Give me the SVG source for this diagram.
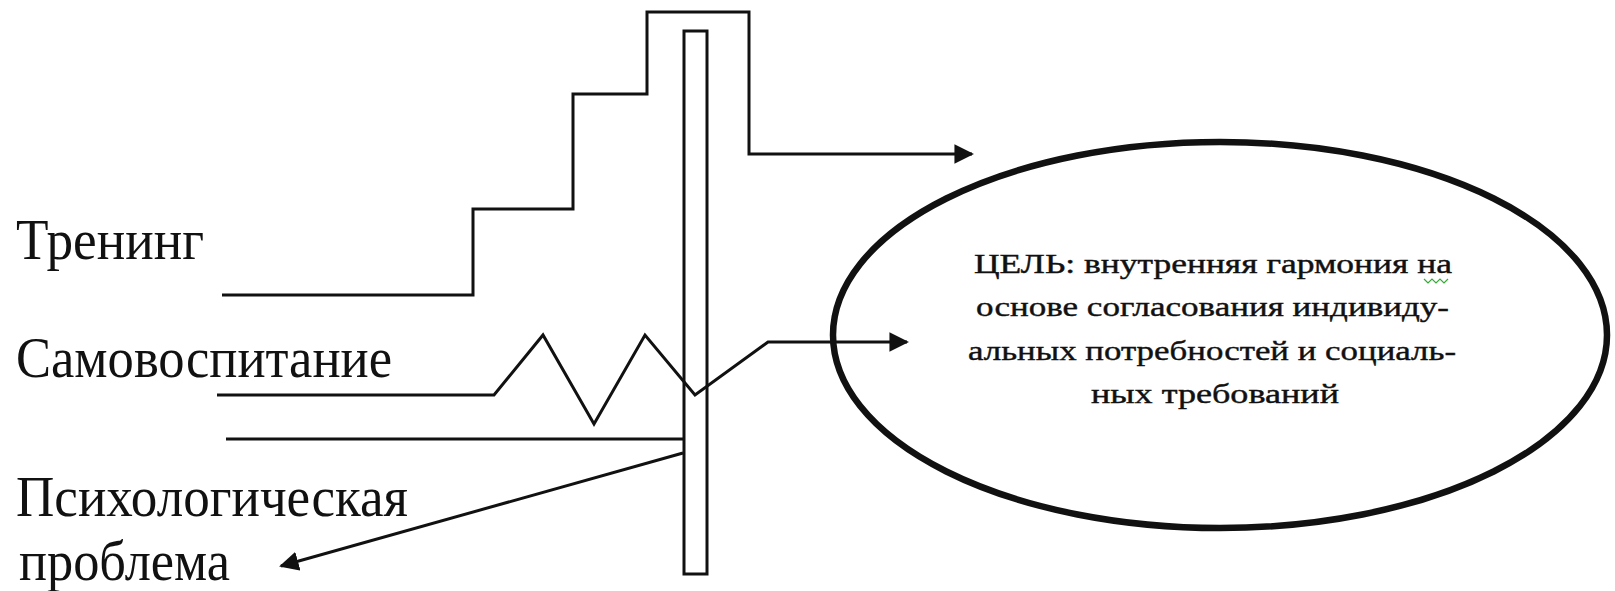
<svg xmlns="http://www.w3.org/2000/svg" width="1615" height="591" viewBox="0 0 1615 591">
<style>
.lbl{font-family:"Liberation Serif","Times New Roman",serif;font-size:56px;fill:#111}
.goal{font-family:"Liberation Serif","Times New Roman",serif;font-size:27px;fill:#111;stroke:#111;stroke-width:0.4}
.ln{fill:none;stroke:#111;stroke-width:3;stroke-linejoin:miter}
.arr{marker-end:url(#ah)}
</style>
<defs>
<marker id="ah" viewBox="0 0 10 10" refX="9" refY="5" markerWidth="6.5" markerHeight="6.5" markerUnits="strokeWidth" orient="auto">
<path d="M0,0 L10,5 L0,10 z" fill="#111"/>
</marker>
</defs>
<rect width="1615" height="591" fill="#fff"/>
<g id="barrier">
<rect x="684" y="31" width="23" height="543" fill="#fff" stroke="#111" stroke-width="3"/>
</g>
<g id="goal">
<ellipse cx="1220" cy="335" rx="387" ry="193" fill="none" stroke="#111" stroke-width="6.5"/>
<text class="goal" x="974" y="273" textLength="478" lengthAdjust="spacingAndGlyphs">ЦЕЛЬ: внутренняя гармония на</text>
<text class="goal" x="976" y="316" textLength="473" lengthAdjust="spacingAndGlyphs">основе согласования индивиду-</text>
<text class="goal" x="968" y="360" textLength="488" lengthAdjust="spacingAndGlyphs">альных потребностей и социаль-</text>
<text class="goal" x="1091" y="403" textLength="248" lengthAdjust="spacingAndGlyphs">ных требований</text>
<polyline points="1424,279 1428,283 1432,279 1436,283 1440,279 1444,283 1448,279" fill="none" stroke="#3a3" stroke-width="1.2"/>
</g>
<g id="label-training">
<text class="lbl" x="16" y="259" textLength="188" lengthAdjust="spacingAndGlyphs">Тренинг</text>
</g>
<g id="label-selfeducation">
<text class="lbl" x="16" y="377" textLength="376" lengthAdjust="spacingAndGlyphs">Самовоспитание</text>
</g>
<g id="label-problem">
<text class="lbl" x="16" y="516" textLength="392" lengthAdjust="spacingAndGlyphs">Психологическая</text>
<text class="lbl" x="19" y="580" textLength="211" lengthAdjust="spacingAndGlyphs">проблема</text>
</g>
<g id="connectors">
<polyline class="ln arr" points="222,295 473,295 473,209 573,209 573,94 647,94 647,12 749,12 749,154 972,154"/>
<polyline class="ln arr" points="217,395 494,395 543,335 594,424 645,335 695,395 768,342 907,342"/>
<line class="ln" x1="226" y1="439" x2="684" y2="439"/>
<line class="ln arr" x1="683" y1="453" x2="281" y2="566"/>
</g>
</svg>
